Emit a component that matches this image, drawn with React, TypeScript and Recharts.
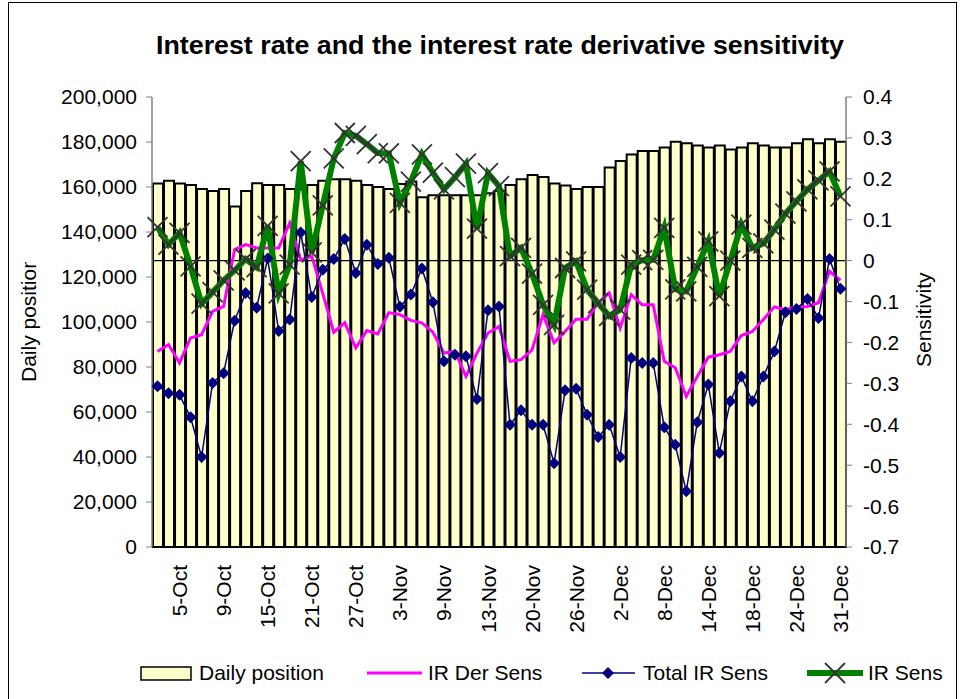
import React from 'react';
import {
  ComposedChart,
  Bar,
  Line,
  XAxis,
  YAxis,
  ReferenceLine,
} from 'recharts';

const dates = [
  '1-Oct', '2-Oct', '5-Oct', '6-Oct', '7-Oct', '8-Oct', '9-Oct', '12-Oct', '13-Oct', '14-Oct',
  '15-Oct', '16-Oct', '19-Oct', '20-Oct', '21-Oct', '22-Oct', '23-Oct', '26-Oct', '27-Oct', '28-Oct',
  '29-Oct', '2-Nov', '3-Nov', '4-Nov', '5-Nov', '6-Nov', '9-Nov', '10-Nov', '11-Nov', '12-Nov',
  '13-Nov', '16-Nov', '17-Nov', '18-Nov', '20-Nov', '23-Nov', '24-Nov', '25-Nov', '26-Nov', '27-Nov',
  '30-Nov', '1-Dec', '2-Dec', '3-Dec', '4-Dec', '7-Dec', '8-Dec', '9-Dec', '10-Dec', '11-Dec',
  '14-Dec', '15-Dec', '16-Dec', '17-Dec', '18-Dec', '21-Dec', '22-Dec', '23-Dec', '24-Dec', '28-Dec',
  '29-Dec', '30-Dec', '31-Dec',
];

const dailyPosition = [
  161600, 162800, 161600, 160900, 159100, 158200, 159100, 151300, 158200, 161700,
  160900, 160900, 159100, 159000, 160900, 162800, 163500, 163500, 162800, 160900,
  160000, 159100, 161300, 162400, 155400, 156300, 156300, 156300, 156300, 156300,
  157200, 158200, 160900, 163500, 165300, 164400, 161600, 160700, 159100, 160000,
  160000, 168700, 171600, 174400, 176000, 176000, 177600, 180100, 179400, 178500,
  177600, 178500, 176700, 177600, 179400, 178500, 177600, 177600, 179400, 181200,
  179400, 181200, 180100,
];

const irDerSens = [
  -0.222, -0.205, -0.25, -0.189, -0.181, -0.124, -0.112, 0.027, 0.039, 0.031,
  0.031, 0.031, 0.092, 0.002, 0.011, -0.08, -0.175, -0.152, -0.213, -0.171,
  -0.179, -0.127, -0.132, -0.146, -0.152, -0.175, -0.226, -0.222, -0.283, -0.226,
  -0.177, -0.161, -0.246, -0.242, -0.218, -0.132, -0.201, -0.173, -0.143, -0.143,
  -0.103, -0.079, -0.165, -0.083, -0.108, -0.108, -0.246, -0.262, -0.332, -0.283,
  -0.236, -0.23, -0.222, -0.183, -0.173, -0.144, -0.113, -0.12, -0.113, -0.112,
  -0.103, -0.026, -0.048,
];

const totalIrSens = [
  -0.307, -0.324, -0.328, -0.383, -0.48, -0.299, -0.275, -0.147, -0.079, -0.115,
  0.005, -0.172, -0.144, 0.069, -0.089, -0.022, 0.004, 0.053, -0.03, 0.039,
  -0.008, 0.007, -0.113, -0.083, -0.019, -0.102, -0.246, -0.23, -0.234, -0.338,
  -0.121, -0.112, -0.401, -0.366, -0.401, -0.401, -0.495, -0.317, -0.313, -0.377,
  -0.431, -0.401, -0.48, -0.238, -0.25, -0.25, -0.407, -0.45, -0.564, -0.395,
  -0.303, -0.47, -0.344, -0.283, -0.344, -0.283, -0.222, -0.126, -0.118, -0.094,
  -0.14, 0.004, -0.069,
];

const irSens = [
  0.082, 0.039, 0.068, -0.014, -0.105, -0.077, -0.048, -0.024, 0.004, -0.016,
  0.085, -0.08, -0.01, 0.243, 0.02, 0.135, 0.25, 0.312, 0.305, 0.285,
  0.263, 0.262, 0.141, 0.193, 0.26, 0.215, 0.174, 0.204, 0.237, 0.078,
  0.214, 0.182, 0.011, 0.031, -0.032, -0.108, -0.157, -0.018, -0.002, -0.071,
  -0.104, -0.135, -0.12, -0.01, 0.001, 0.002, 0.08, -0.07, -0.075, -0.015,
  0.047, -0.087, 0.0, 0.088, 0.031, 0.042, 0.076, 0.115, 0.145, 0.174,
  0.196, 0.218, 0.157,
];

const positionTicks = [0, 20000, 40000, 60000, 80000, 100000, 120000, 140000, 160000, 180000, 200000];
const sensTicks = [-0.7, -0.6, -0.5, -0.4, -0.3, -0.2, -0.1, 0, 0.1, 0.2, 0.3, 0.4];

const data = dates.map((d, i) => ({
  date: d,
  position: dailyPosition[i],
  der: irDerSens[i],
  total: totalIrSens[i],
  sens: irSens[i],
}));

const FONT = 'Arial, "Liberation Sans", sans-serif';

function DateTick(props: any) {
  const { x, y, payload, index } = props;
  if (index % 4 !== 2) return null;
  return (
    <text
      x={x}
      y={y + 10}
      transform={`rotate(-90 ${x} ${y + 10})`}
      textAnchor="end"
      dy="0.36em"
      fontSize={21}
      fontFamily={FONT}
      fill="#000"
    >
      {payload.value}
    </text>
  );
}

function Diamond(props: any) {
  const { cx, cy } = props;
  if (cx == null || cy == null) return null;
  const r = 6;
  return <polygon points={`${cx},${cy - r} ${cx + r},${cy} ${cx},${cy + r} ${cx - r},${cy}`} fill="#000080" />;
}

function Cross(props: any) {
  const { cx, cy } = props;
  if (cx == null || cy == null) return null;
  const r = 10;
  return (
    <g stroke="#333" strokeWidth={1.8}>
      <line x1={cx - r} y1={cy - r} x2={cx + r} y2={cy + r} />
      <line x1={cx - r} y1={cy + r} x2={cx + r} y2={cy - r} />
    </g>
  );
}

function LegendRow() {
  const txt = { position: 'absolute' as const, top: 0, fontSize: 21, fontFamily: FONT, lineHeight: '26px' };
  return (
    <div style={{ position: 'absolute', left: 0, top: 660, width: 963, height: 26 }}>
      <svg width={963} height={26} style={{ position: 'absolute', left: 0, top: 0 }}>
        <rect x={141} y={7} width={50} height={13} fill="#FFFFCC" stroke="#000" strokeWidth={1.5} />
        <line x1={367} y1={13} x2={422} y2={13} stroke="#FF00FF" strokeWidth={3} />
        <line x1={582} y1={13} x2={635} y2={13} stroke="#000080" strokeWidth={1.5} />
        <Diamond cx={608} cy={13} />
        <line x1={807} y1={13} x2={863} y2={13} stroke="#008000" strokeWidth={6} />
        <Cross cx={835} cy={13} />
      </svg>
      <span style={{ ...txt, left: 199 }}>Daily position</span>
      <span style={{ ...txt, left: 428 }}>IR Der Sens</span>
      <span style={{ ...txt, left: 643 }}>Total IR Sens</span>
      <span style={{ ...txt, left: 868 }}>IR Sens</span>
    </div>
  );
}

export default function App() {
  return (
    <div style={{ position: 'absolute', left: 0, top: 0, width: 963, height: 699, background: '#fff', overflow: 'hidden' }}>
      <div style={{ position: 'absolute', left: 8, top: 2, width: 947, height: 720, border: '1px solid #000' }} />
      <ComposedChart
        width={963}
        height={699}
        data={data}
        margin={{ top: 97, left: 52, right: 17, bottom: 52 }}
        style={{ position: 'absolute', left: 0, top: 0 }}
      >
        <text x={156} y={54} fontSize={25} fontWeight="bold" fontFamily={FONT} textLength={688} lengthAdjust="spacingAndGlyphs">
          Interest rate and the interest rate derivative sensitivity
        </text>
        <defs>
          <clipPath id="ylabclip">
            <rect x={0} y={262} width={80} height={200} />
          </clipPath>
        </defs>
        <g clipPath="url(#ylabclip)">
          <text
            x={28}
            y={382}
            transform="rotate(-90 28 382)"
            dy="0.36em"
            fontSize={21}
            fontFamily={FONT}
          >
            Daily position
          </text>
        </g>
        <text x={923} y={367} transform="rotate(-90 923 367)" dy="0.36em" fontSize={21} fontFamily={FONT}>
          Sensitivity
        </text>
        <XAxis
          dataKey="date"
          interval={0}
          tick={<DateTick />}
          tickLine={false}
          axisLine={{ stroke: '#000', strokeWidth: 1.5 }}
          height={100}
        />
        <YAxis
          yAxisId="left"
          width={100}
          domain={[0, 200000]}
          ticks={positionTicks}
          tickFormatter={(v: number) => v.toLocaleString('en-US')}
          tick={{ fontSize: 21, fontFamily: FONT, fill: '#000' }}
          tickSize={6}
          tickMargin={9}
          tickLine={{ stroke: '#808080' }}
          axisLine={{ stroke: '#808080', strokeWidth: 1.5 }}
          interval={0}
        />
        <YAxis
          yAxisId="right"
          orientation="right"
          width={100}
          domain={[-0.7, 0.4]}
          ticks={sensTicks}
          tickFormatter={(v: number) => String(Math.round(v * 10) / 10)}
          tick={{ fontSize: 21, fontFamily: FONT, fill: '#000', textAnchor: 'start' }}
          tickSize={6}
          tickMargin={11}
          tickLine={{ stroke: '#808080' }}
          axisLine={{ stroke: '#808080', strokeWidth: 1.5 }}
          interval={0}
        />
        <Bar
          yAxisId="left"
          dataKey="position"
          name="Daily position"
          fill="#FFFFCC"
          stroke="#000"
          strokeWidth={2}
          barSize={10}
          isAnimationActive={false}
        />
        <ReferenceLine yAxisId="right" y={0} stroke="#000" strokeWidth={1.2} />
        <Line
          yAxisId="right"
          dataKey="der"
          name="IR Der Sens"
          stroke="#FF00FF"
          strokeWidth={3}
          dot={false}
          activeDot={false}
          isAnimationActive={false}
        />
        <Line
          yAxisId="right"
          dataKey="total"
          name="Total IR Sens"
          stroke="#000080"
          strokeWidth={1.5}
          dot={<Diamond />}
          activeDot={false}
          isAnimationActive={false}
        />
        <Line
          yAxisId="right"
          dataKey="sens"
          name="IR Sens"
          stroke="#008000"
          strokeWidth={6}
          dot={<Cross />}
          activeDot={false}
          isAnimationActive={false}
        />
      </ComposedChart>
      <LegendRow />
    </div>
  );
}
